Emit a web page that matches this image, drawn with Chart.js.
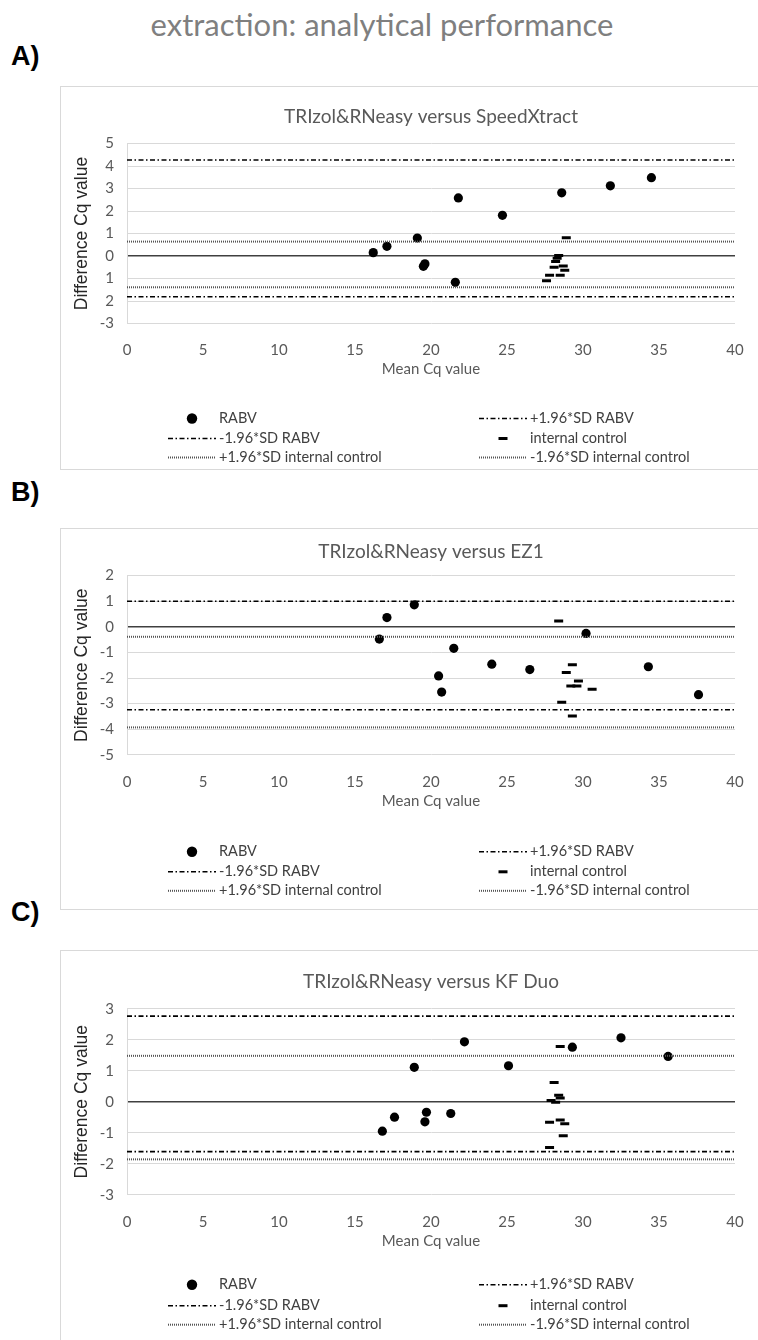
<!DOCTYPE html>
<html>
<head>
<meta charset="utf-8">
<script src="https://cdn.jsdelivr.net/npm/chart.js@4.4.1/dist/chart.umd.min.js"></script>
<style>
  html, body { margin: 0; padding: 0; background: #fff; }
  body { width: 758px; height: 1340px; overflow: hidden; position: relative; }
  #mainTitle { position: absolute; left: 0; top: 5px; width: 764px; text-align: center;
               font: 31px Lato, sans-serif; color: #7f7f7f; }
  .lab { position: absolute; left: 11px; font: bold 27px "Liberation Sans", Arial, sans-serif;
         color: #000; line-height: 30px; }
  .box { position: absolute; left: 60px; width: 760px; border: 1px solid #d9d9d9; box-sizing: border-box; }
  canvas { position: absolute; left: 60px; }
</style>
</head>
<body>
<div id="mainTitle">extraction: analytical performance</div>

<div class="lab" style="top:41px">A)</div>
<div class="box" style="top:86px;height:384px"></div>
<canvas id="cA" width="742" height="384" style="top:86px"></canvas>

<div class="lab" style="top:477px">B)</div>
<div class="box" style="top:528px;height:382px"></div>
<canvas id="cB" width="742" height="380" style="top:528px"></canvas>

<div class="lab" style="top:897px">C)</div>
<div class="box" style="top:950px;height:420px"></div>
<canvas id="cC" width="742" height="390" style="top:950px"></canvas>

<script>
// series labels (legend order)
const seriesNames = ["RABV", "+1.96*SD RABV", "-1.96*SD RABV", "internal control",
                     "+1.96*SD internal control", "-1.96*SD internal control"];

const xTickLabels = ["0", "5", "10", "15", "20", "25", "30", "35", "40"];
const xMin = 0, xMax = 40;

// A) TRIzol&RNeasy versus SpeedXtract
const rabvA_x = [16.2, 17.1, 19.1, 19.5, 19.6, 21.6, 21.8, 24.7, 28.6, 31.8, 34.5];
const rabvA_y = [0.15, 0.43, 0.80, -0.46, -0.35, -1.17, 2.58, 1.81, 2.81, 3.12, 3.48];
const icA_x = [28.9, 28.4, 28.3, 28.2, 28.1, 28.7, 28.8, 27.8, 28.5, 27.6];
const icA_y = [0.81, 0.02, -0.10, -0.24, -0.50, -0.44, -0.63, -0.86, -0.86, -1.10];
const limitsA = [4.27, -1.81, 0.64, -1.39];   // +RABV, -RABV, +IC, -IC
const yTicksA = ["-3", "2", "1", "0", "1", "2", "3", "4", "5"];

// B) TRIzol&RNeasy versus EZ1
const rabvB_x = [16.6, 17.1, 18.9, 20.5, 20.7, 21.5, 24.0, 26.5, 30.2, 34.3, 37.6];
const rabvB_y = [-0.48, 0.36, 0.86, -1.92, -2.55, -0.84, -1.46, -1.67, -0.26, -1.56, -2.65];
const icB_x = [28.4, 28.9, 29.3, 29.7, 29.6, 29.2, 30.6, 28.6, 29.3];
const icB_y = [0.23, -1.79, -1.48, -2.12, -2.31, -2.31, -2.44, -2.95, -3.48];
const limitsB = [1.00, -3.24, -0.39, -3.93];
const yTicksB = ["-5", "-4", "-3", "-2", "-1", "0", "1", "2"];

// C) TRIzol&RNeasy versus KF Duo
const rabvC_x = [16.8, 17.6, 18.9, 19.6, 19.7, 21.3, 22.2, 25.1, 29.3, 32.5, 35.6];
const rabvC_y = [-0.95, -0.50, 1.11, -0.65, -0.34, -0.38, 1.93, 1.16, 1.76, 2.06, 1.46];
const icC_x = [28.5, 28.1, 28.4, 28.5, 27.9, 28.2, 27.8, 28.5, 28.8, 28.7, 27.8];
const icC_y = [1.78, 0.62, 0.21, 0.12, 0.04, -0.02, -0.66, -0.59, -0.71, -1.10, -1.48];
const limitsC = [2.76, -1.61, 1.48, -1.86];
const yTicksC = ["-3", "-2", "-1", "0", "1", "2", "3"];

const panels = [
  { id: "cA", title: "TRIzol&RNeasy versus SpeedXtract", rx: rabvA_x, ry: rabvA_y,
    ix: icA_x, iy: icA_y, lim: limitsA, yMin: -3, yMax: 5, yLab: yTicksA,
    top: 57.5, bottom: 237.5, titleGap: 27, legendRows: [95, 115, 134] },
  { id: "cB", title: "TRIzol&RNeasy versus EZ1", rx: rabvB_x, ry: rabvB_y,
    ix: icB_x, iy: icB_y, lim: limitsB, yMin: -5, yMax: 2, yLab: yTicksB,
    top: 47.6, bottom: 226.8, titleGap: 24, legendRows: [97, 117, 136] },
  { id: "cC", title: "TRIzol&RNeasy versus KF Duo", rx: rabvC_x, ry: rabvC_y,
    ix: icC_x, iy: icC_y, lim: limitsC, yMin: -3, yMax: 3, yLab: yTicksC,
    top: 58.7, bottom: 244.7, titleGap: 27, legendRows: [90, 111, 130] }
];

const dashDot = [5, 2.5, 1.5, 2.5];
const dotted = [1, 1];

// chart title centred over the plot area
const plotTitle = {
  id: "plotTitle",
  afterDraw(chart, args, opts) {
    const { ctx, chartArea } = chart;
    ctx.save();
    ctx.font = "19px Lato";
    ctx.fillStyle = "#595959";
    ctx.textAlign = "center";
    ctx.textBaseline = "middle";
    ctx.fillText(opts.text, (chartArea.left + chartArea.right) / 2, chartArea.top - opts.gap);
    ctx.restore();
  }
};

// two-column legend drawn under the plot
const gridLegend = {
  id: "gridLegend",
  afterDraw(chart, args, opts) {
    const { ctx, chartArea } = chart;
    ctx.save();
    ctx.font = "14.5px Lato";
    ctx.textBaseline = "middle";
    chart.data.datasets.forEach((ds, i) => {
      const x0 = opts.cols[i % 2];
      const y = chartArea.bottom + opts.rows[Math.floor(i / 2)];
      ctx.fillStyle = "#000";
      ctx.strokeStyle = "#000";
      if (ds.pointRadius > 0) {
        ctx.lineWidth = ds.pointBorderWidth;
        Chart.helpers.drawPoint(ctx, {
          pointStyle: ds.pointStyle, radius: ds.legendRadius, borderWidth: ds.pointBorderWidth
        }, x0 + opts.sample / 2, y);
      } else {
        ctx.setLineDash(ds.borderDash);
        ctx.lineWidth = ds.borderWidth;
        ctx.strokeStyle = ds.borderColor;
        ctx.beginPath();
        ctx.moveTo(x0, y);
        ctx.lineTo(x0 + opts.sample, y);
        ctx.stroke();
        ctx.setLineDash([]);
      }
      ctx.fillStyle = "#404040";
      ctx.fillText(ds.label, x0 + opts.sample + opts.gap, y);
    });
    ctx.restore();
  }
};

function hline(label, v, dash, color, width) {
  return {
    label: label, data: [{ x: xMin, y: v }, { x: xMax, y: v }],
    showLine: true, pointRadius: 0, borderColor: color, borderWidth: width,
    borderDash: dash, fill: false
  };
}

panels.forEach(p => {
  const H = document.getElementById(p.id).height;
  const xAxisH = 60;

  new Chart(document.getElementById(p.id), {
    type: "scatter",
    data: {
      datasets: [
        { label: seriesNames[0], data: p.rx.map((x, i) => ({ x: x, y: p.ry[i] })),
          pointStyle: "circle", pointRadius: 4.6, legendRadius: 5.2, pointBorderWidth: 0,
          backgroundColor: "#000", borderColor: "#000", order: 1 },
        hline(seriesNames[1], p.lim[0], dashDot, "#000", 1.6),
        hline(seriesNames[2], p.lim[1], dashDot, "#000", 1.6),
        { label: seriesNames[3], data: p.ix.map((x, i) => ({ x: x, y: p.iy[i] })),
          pointStyle: "line", pointRadius: 4.5, legendRadius: 4.5, pointBorderWidth: 3,
          backgroundColor: "#000", borderColor: "#000", order: 0 },
        hline(seriesNames[4], p.lim[2], dotted, "#555", 2),
        hline(seriesNames[5], p.lim[3], dotted, "#555", 2)
      ]
    },
    options: {
      responsive: false,
      animation: false,
      events: [],
      layout: {
        padding: { top: p.top, left: 0, right: 67, bottom: H - p.bottom - xAxisH }
      },
      plugins: {
        legend: { display: false },
        tooltip: { enabled: false },
        title: { display: false },
        plotTitle: { text: p.title, gap: p.titleGap },
        gridLegend: { cols: [108, 419], rows: p.legendRows, sample: 48, gap: 3 }
      },
      scales: {
        x: {
          type: "linear", min: xMin, max: xMax,
          afterFit: s => { s.height = xAxisH; },
          grid: { display: false },
          border: { display: false },
          ticks: { stepSize: 5, padding: 10, color: "#595959", font: { family: "Lato", size: 15 },
                   callback: (v, i) => xTickLabels[i] },
          title: { display: true, text: "Mean Cq value", color: "#595959",
                   font: { family: "Lato", size: 15 }, padding: { top: 0, bottom: 5 } }
        },
        y: {
          min: p.yMin, max: p.yMax,
          afterFit: s => { s.width = 67; },
          grid: {
            drawTicks: false,
            color: c => (c.tick && c.tick.value === 0 ? "#404040" : "#d9d9d9"),
            lineWidth: c => (c.tick && c.tick.value === 0 ? 1.6 : 1)
          },
          border: { display: true, color: "#d9d9d9", width: 1 },
          ticks: { stepSize: 1, padding: 13, color: "#595959", font: { family: "Lato", size: 15 },
                   callback: (v, i) => p.yLab[i] },
          title: { display: true, text: "Difference Cq value", color: "#262626",
                   font: { family: "Liberation Sans", size: 17.5 }, padding: { top: 12, bottom: 0 } }
        }
      }
    },
    plugins: [plotTitle, gridLegend]
  });
});
</script>
</body>
</html>
